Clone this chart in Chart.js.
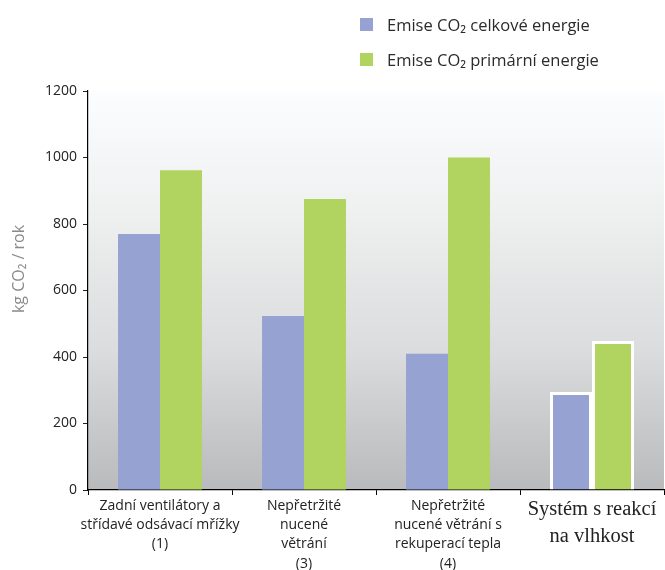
<!DOCTYPE html>
<html>
<head>
<meta charset="utf-8">
<script src="https://cdn.jsdelivr.net/npm/chart.js@4"></script>
<style>
  html, body { margin: 0; padding: 0; background: #fff; }
  #wrap { position: relative; width: 665px; height: 570px; }
  #legend { position: absolute; left: 360px; top: 7px; font-family: "Open Sans", sans-serif; font-size: 16.5px; color: #2b2b2b; }
  .item { display: flex; align-items: center; height: 35px; }
  .swatch { width: 13px; height: 13px; margin-right: 14px; }
</style>
</head>
<body>
<div id="wrap">
  <canvas id="c" width="665" height="570"></canvas>
  <div id="legend"></div>
</div>
<script>
// Ventilation systems compared by yearly CO2 emissions
const categories = [
  ["Zadní ventilátory a", "střídavé odsávací mřížky", "(1)"],
  ["Nepřetržité", "nucené", "větrání", "(3)"],
  ["Nepřetržité", "nucené větrání s", "rekuperací tepla", "(4)"],
  ["Systém s reakcí", "na vlhkost"]
];
const seriesNames = ["Emise CO₂ celkové energie", "Emise CO₂ primární energie"];
const totalEnergy = [770, 523, 410, 295];
const primaryEnergy = [962, 875, 1000, 448];
const yTicks = [0, 200, 400, 600, 800, 1000, 1200];
const yTitle = "kg CO₂ / rok";

const colors = ["#96a2d1", "#b1d360"];

// vertical grey wash behind the plot area
const plotBackground = {
  id: "plotBackground",
  beforeDraw(chart) {
    const { ctx, chartArea: a } = chart;
    const g = ctx.createLinearGradient(0, a.top, 0, a.bottom);
    g.addColorStop(0, "#fcfdff");
    g.addColorStop(0.3, "#eff0f0");
    g.addColorStop(0.65, "#dadcdd");
    g.addColorStop(1, "#b8babc");
    ctx.save();
    ctx.fillStyle = g;
    ctx.fillRect(a.left, a.top, a.right - a.left, a.bottom - a.top);
    ctx.restore();
  }
};

// rotated unit label left of the value axis
const axisTitle = {
  id: "axisTitle",
  afterDraw(chart) {
    const { ctx } = chart;
    ctx.save();
    ctx.translate(19, 269);
    ctx.rotate(-Math.PI / 2);
    ctx.font = "16px 'Open Sans', sans-serif";
    ctx.fillStyle = "#8a8a8a";
    ctx.textAlign = "center";
    ctx.textBaseline = "middle";
    ctx.fillText(yTitle, 0, 0);
    ctx.restore();
  }
};

const lastIdx = categories.length - 1;

const chart = new Chart(document.getElementById("c"), {
  type: "bar",
  data: {
    labels: categories,
    datasets: [
      { label: seriesNames[0], data: totalEnergy, backgroundColor: colors[0] },
      { label: seriesNames[1], data: primaryEnergy, backgroundColor: colors[1] }
    ].map(d => Object.assign(d, {
      borderColor: "#ffffff",
      borderWidth: ctx => ctx.dataIndex === lastIdx ? 3 : 0,
      categoryPercentage: 0.583,
      barPercentage: 1
    }))
  },
  options: {
    responsive: false,
    animation: false,
    layout: { padding: { top: 91, right: 1, bottom: 0, left: 0 } },
    plugins: { legend: { display: false }, tooltip: { enabled: false } },
    scales: {
      x: {
        grid: { display: true, drawOnChartArea: false, color: "#000", tickLength: 5, offset: true },
        border: { color: "#000", width: 1.2 },
        ticks: {
          maxRotation: 0,
          autoSkip: false,
          padding: 1.5,
          color: "#222",
          font: ctx => ctx.index === lastIdx
            ? { family: "'Liberation Serif', serif", size: 20.5, lineHeight: 1.3 }
            : { family: "'Open Sans', sans-serif", size: 14, lineHeight: 1.37 }
        },
        afterFit(scale) { scale.height = 80; }
      },
      y: {
        min: 0,
        max: 1200,
        afterBuildTicks(scale) { scale.ticks = yTicks.map(v => ({ value: v })); },
        grid: { display: true, drawOnChartArea: false, color: "#222", tickLength: 5 },
        border: { color: "#000", width: 1.2 },
        ticks: {
          padding: 6,
          color: "#222",
          font: { family: "'Open Sans', sans-serif", size: 14 },
          callback: v => String(v)
        },
        afterFit(scale) { scale.width = 88; }
      }
    }
  },
  plugins: [plotBackground, axisTitle]
});

// stacked legend built from the datasets
const legend = document.getElementById("legend");
chart.data.datasets.forEach(ds => {
  const row = document.createElement("div");
  row.className = "item";
  const sw = document.createElement("span");
  sw.className = "swatch";
  sw.style.background = ds.backgroundColor;
  const tx = document.createElement("span");
  tx.textContent = ds.label;
  row.appendChild(sw);
  row.appendChild(tx);
  legend.appendChild(row);
});
</script>
</body>
</html>
